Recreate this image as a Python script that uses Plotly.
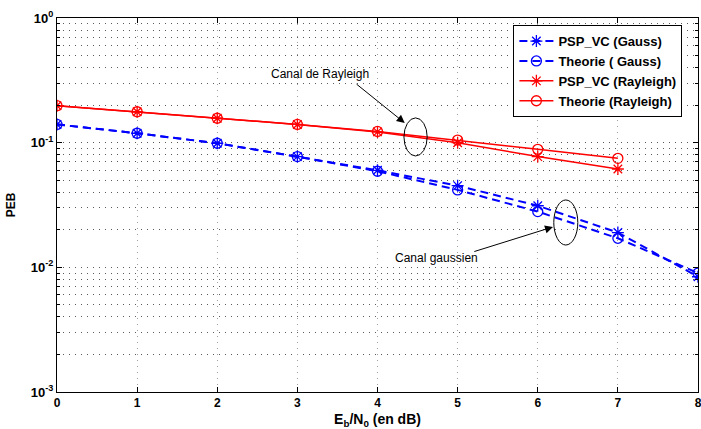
import plotly.graph_objects as go

# Eb/N0 axis (dB)
snr_gauss = [0, 1, 2, 3, 4, 5, 6, 7, 8]
snr_rayleigh = [0, 1, 2, 3, 4, 5, 6, 7]

# Bit error probability, Gaussian channel
peb_psp_gauss = [0.140, 0.119, 0.0989, 0.0773, 0.0600, 0.0452, 0.0312, 0.0190, 0.0084]
peb_theo_gauss = [0.140, 0.119, 0.0989, 0.0773, 0.0590, 0.0418, 0.0280, 0.0171, 0.0090]

# Bit error probability, Rayleigh channel
peb_psp_rayleigh = [0.198, 0.177, 0.157, 0.140, 0.122, 0.100, 0.0773, 0.0615]
peb_theo_rayleigh = [0.198, 0.177, 0.157, 0.140, 0.123, 0.105, 0.0885, 0.0749]

y_tick_vals = [1e-3, 1e-2, 1e-1, 1]
y_tick_text = ["10<sup>-3</sup>", "10<sup>-2</sup>", "10<sup>-1</sup>", "10<sup>0</sup>"]

BLUE = "#0000ff"
RED = "#ff0000"
FONT = "Liberation Sans"
DASH = "8px,5px"
DOTS = "1px,5px"

fig = go.Figure()
fig.add_trace(go.Scatter(
    x=snr_gauss, y=peb_psp_gauss, name="PSP_VC (Gauss)", mode="lines+markers",
    line=dict(color=BLUE, width=2, dash=DASH),
    marker=dict(symbol="asterisk-open", size=10, color=BLUE, line=dict(color=BLUE, width=1.3)),
))
fig.add_trace(go.Scatter(
    x=snr_gauss, y=peb_theo_gauss, name="Theorie ( Gauss)", mode="lines+markers",
    line=dict(color=BLUE, width=2, dash=DASH),
    marker=dict(symbol="circle-open", size=10, color=BLUE, line=dict(color=BLUE, width=1.3)),
))
fig.add_trace(go.Scatter(
    x=snr_rayleigh, y=peb_psp_rayleigh, name="PSP_VC (Rayleigh)", mode="lines+markers",
    line=dict(color=RED, width=1.5),
    marker=dict(symbol="asterisk-open", size=10, color=RED, line=dict(color=RED, width=1.3)),
))
fig.add_trace(go.Scatter(
    x=snr_rayleigh, y=peb_theo_rayleigh, name="Theorie (Rayleigh)", mode="lines+markers",
    line=dict(color=RED, width=1.5),
    marker=dict(symbol="circle-open", size=10, color=RED, line=dict(color=RED, width=1.3)),
))

# Ellipses grouping each channel's curves
fig.add_shape(type="circle", xref="x", yref="y", x0=4.33, x1=4.62, y0=0.0782, y1=0.158,
              line=dict(color="black", width=1))
fig.add_shape(type="circle", xref="x", yref="y", x0=6.20, x1=6.50, y0=0.0151, y1=0.0347,
              line=dict(color="black", width=1))

# Arrows (log10 positions on the y axis)
fig.add_annotation(x=4.34, y=-0.842, ax=3.72, ay=-0.521, xref="x", yref="y", axref="x", ayref="y",
                   text="", showarrow=True, arrowhead=2, arrowsize=1.6, arrowwidth=1, arrowcolor="black")
fig.add_annotation(x=6.19, y=-1.676, ax=5.19, ay=-1.877, xref="x", yref="y", axref="x", ayref="y",
                   text="", showarrow=True, arrowhead=2, arrowsize=1.6, arrowwidth=1, arrowcolor="black")
fig.add_annotation(x=3.28, y=-0.449, xref="x", yref="y", text="Canal de Rayleigh", showarrow=False,
                   font=dict(family=FONT, size=12, color="black"))
fig.add_annotation(x=4.74, y=-1.925, xref="x", yref="y", text="Canal gaussien", showarrow=False,
                   font=dict(family=FONT, size=12, color="black"))

minor_vals = [m * 10 ** e for e in range(-3, 0) for m in range(2, 10)]

fig.update_layout(
    width=701, height=429,
    margin=dict(l=57, r=3, t=18, b=37),
    paper_bgcolor="white", plot_bgcolor="white",
    font=dict(family=FONT, size=12, color="black"),
    showlegend=True,
    legend=dict(
        x=0.712, y=0.981, xanchor="left", yanchor="top",
        bgcolor="white", bordercolor="black", borderwidth=1,
        font=dict(family=FONT, size=13, color="black", weight="bold"),
        tracegroupgap=0, itemwidth=34,
    ),
    xaxis=dict(
        range=[0, 8], tickvals=list(range(9)), automargin=False, ticklabeloverflow="allow",
        showline=True, linecolor="black", linewidth=1, mirror="ticks",
        ticks="inside", ticklen=5, tickcolor="black",
        showgrid=True, gridcolor="#a0a0a0", griddash=DOTS, gridwidth=1,
        zeroline=False,
        tickfont=dict(family=FONT, size=12, weight="bold"),
        title=dict(text="E<sub>b</sub>/N<sub>0</sub> (en dB)", standoff=6,
                   font=dict(family=FONT, size=14, weight="bold")),
    ),
    yaxis=dict(
        type="log", range=[-3, 0], tickvals=y_tick_vals, ticktext=y_tick_text, automargin=False,
        showline=True, linecolor="black", linewidth=1, mirror="ticks",
        ticks="inside", ticklen=5, tickcolor="black",
        showgrid=True, gridcolor="#5a5a5a", griddash=DOTS, gridwidth=1,
        zeroline=False,
        tickfont=dict(family=FONT, size=13, weight="bold"),
        minor=dict(tickvals=minor_vals, ticks="inside", ticklen=3, tickcolor="black",
                   showgrid=True, gridcolor="#5a5a5a", griddash=DOTS, gridwidth=1),
        title=dict(text="PEB", standoff=12, font=dict(family=FONT, size=12, weight="bold")),
    ),
)

fig.write_html("out.html")
